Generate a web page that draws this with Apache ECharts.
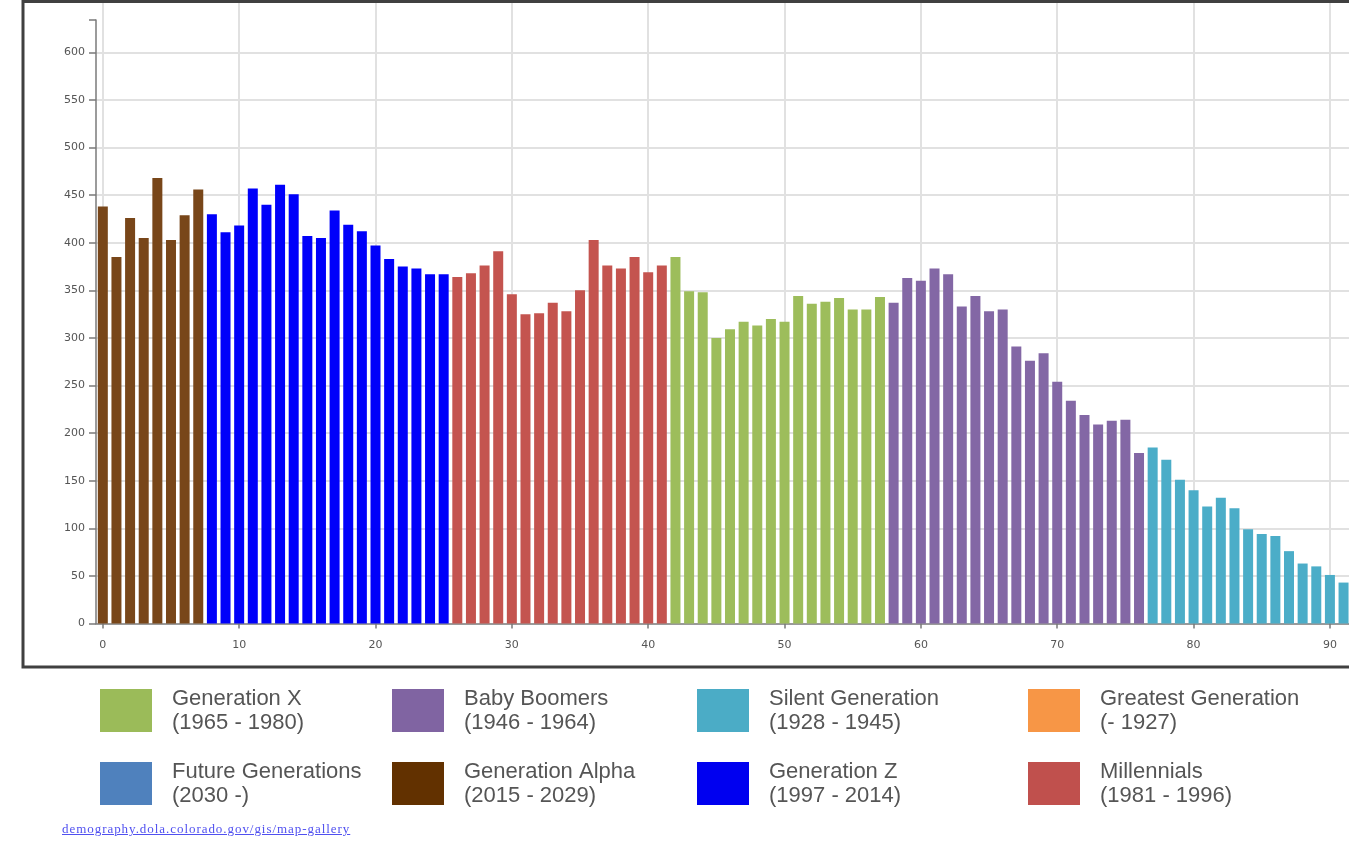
<!DOCTYPE html>
<html>
<head>
<meta charset="utf-8">
<script src="https://cdn.jsdelivr.net/npm/echarts@6/dist/echarts.min.js"></script>
<style>
  html, body { margin: 0; padding: 0; background: #fff; overflow: hidden; }
  #chart { position: absolute; left: 0; top: 0; width: 1349px; height: 841px; }
  #source {
    position: absolute; left: 62px; top: 821px;
    font-family: "Liberation Serif", "Times New Roman", serif;
    font-size: 13px; letter-spacing: 0.95px; color: #5050f0;
  }
</style>
</head>
<body>
<div id="chart"></div>
<a id="source" href="#">demography.dola.colorado.gov/gis/map-gallery</a>
<script>
// single year of age (x axis)
var ages = [0, 1, 2, 3, 4, 5, 6, 7, 8, 9, 10, 11, 12, 13, 14, 15, 16, 17, 18, 19,
  20, 21, 22, 23, 24, 25, 26, 27, 28, 29, 30, 31, 32, 33, 34, 35, 36, 37, 38, 39,
  40, 41, 42, 43, 44, 45, 46, 47, 48, 49, 50, 51, 52, 53, 54, 55, 56, 57, 58, 59,
  60, 61, 62, 63, 64, 65, 66, 67, 68, 69, 70, 71, 72, 73, 74, 75, 76, 77, 78, 79,
  80, 81, 82, 83, 84, 85, 86, 87, 88, 89, 90, 91];

// population by age
var population = [438, 385, 426, 405, 468, 403, 429, 456, 430, 411,
  418, 457, 440, 461, 451, 407, 405, 434, 419, 412,
  397, 383, 375, 373, 367, 367, 364, 368, 376, 391,
  346, 325, 326, 337, 328, 350, 403, 376, 373, 385,
  369, 376, 385, 349, 348, 300, 309, 317, 313, 320,
  317, 344, 336, 338, 342, 330, 330, 343, 337, 363,
  360, 373, 367, 333, 344, 328, 330, 291, 276, 284,
  254, 234, 219, 209, 213, 214, 179, 185, 172, 151,
  140, 123, 132, 121, 99, 94, 92, 76, 63, 60,
  51, 43];

var xTicks = [0, 10, 20, 30, 40, 50, 60, 70, 80, 90];
var yTicks = [0, 50, 100, 150, 200, 250, 300, 350, 400, 450, 500, 550, 600];
var yMax = 634;

// generations, in legend order
var genNames = ["Generation X", "Baby Boomers", "Silent Generation", "Greatest Generation",
  "Future Generations", "Generation Alpha", "Generation Z", "Millennials"];
var genYears = ["(1965 - 1980)", "(1946 - 1964)", "(1928 - 1945)", "(- 1927)",
  "(2030 -)", "(2015 - 2029)", "(1997 - 2014)", "(1981 - 1996)"];
var genFirstAge = [42, 58, 77, null, null, 0, 8, 26];
var genLastAge = [57, 76, 94, null, null, 7, 25, 41];
var barColors = ["#9dbd5b", "#8367a5", "#4badc8", "#f79646", "#4f81bd", "#784619", "#0000fa", "#c4544f"];
var legendColors = ["#9bbb59", "#8064a2", "#4bacc6", "#f79646", "#4f81bd", "#623100", "#0000f0", "#c0504d"];

var chart = echarts.init(document.getElementById("chart"));

var series = genNames.map(function (name, g) {
  var data = [];
  ages.forEach(function (age, i) {
    if (genFirstAge[g] != null && age >= genFirstAge[g] && age <= genLastAge[g]) {
      data.push([age, population[i]]);
    }
  });
  return {
    name: name,
    type: "bar",
    xAxisIndex: 0,
    yAxisIndex: 0,
    barWidth: 10,
    barGap: "-100%",
    itemStyle: { color: barColors[g] },
    data: data
  };
});

// one small legend per box so the 4 x 2 layout lines up
var colLeft = [100, 392, 697, 1028];
var rowTop = [686.5, 759.5];
var legends = genNames.map(function (name, g) {
  return {
    left: colLeft[g % 4],
    top: rowTop[Math.floor(g / 4)],
    padding: 0,
    orient: "horizontal",
    selectedMode: false,
    icon: "rect",
    itemWidth: 52,
    itemHeight: 43,
    data: [{ name: name, itemStyle: { color: legendColors[g] } }],
    formatter: function (n) { return n + "\n" + genYears[g]; },
    textStyle: {
      fontFamily: "Liberation Sans, Arial, sans-serif",
      fontSize: 22,
      lineHeight: 24,
      color: "#555",
      padding: [0, 0, 0, 15]
    }
  };
});

var axisColor = "#7a7a7a";
var gridColor = "#e1e1e1";
var labelFont = { fontFamily: "DejaVu Sans, sans-serif", fontSize: 11, color: "#555" };

chart.setOption({
  animation: false,
  graphic: [{
    type: "rect",
    z: 100,
    shape: { x: 23, y: 1.5, width: 1400, height: 665.5 },
    style: { fill: null, stroke: "#404040", lineWidth: 3 }
  }],
  legend: legends,
  grid: [
    { left: 96, right: 0, top: 20, bottom: 217.5 },
    { left: 96, right: 0, top: 3, bottom: 217.5 }
  ],
  xAxis: [{
    gridIndex: 0,
    type: "value",
    min: -0.5,
    max: 91.4,
    splitNumber: 9,
    axisLine: { show: true, onZero: false, lineStyle: { color: axisColor, width: 1.5 } },
    axisTick: { show: true, length: 5, customValues: xTicks, lineStyle: { color: axisColor, width: 1.5 } },
    axisLabel: Object.assign({ margin: 16, customValues: xTicks }, labelFont),
    splitLine: { show: false }
  }, {
    gridIndex: 1,
    type: "value",
    min: -0.5,
    max: 91.4,
    splitNumber: 9,
    axisLine: { show: false },
    axisTick: { show: false },
    axisLabel: { show: false },
    splitLine: { show: true, showMinLine: false, showMaxLine: false, lineStyle: { color: gridColor, width: 2 } }
  }],
  yAxis: [{
    gridIndex: 0,
    type: "value",
    min: 0,
    max: yMax,
    splitNumber: 12,
    axisLine: { show: true, onZero: false, lineStyle: { color: axisColor, width: 1.5 } },
    axisTick: { show: true, length: 7, customValues: yTicks.concat([yMax]), lineStyle: { color: axisColor, width: 1.5 } },
    axisLabel: Object.assign({ margin: 11, customValues: yTicks }, labelFont),
    splitLine: { show: true, showMinLine: false, showMaxLine: false, lineStyle: { color: gridColor, width: 2 } }
  }, {
    gridIndex: 1,
    type: "value",
    min: 0,
    max: 1,
    show: false
  }],
  series: series
});
</script>
</body>
</html>
